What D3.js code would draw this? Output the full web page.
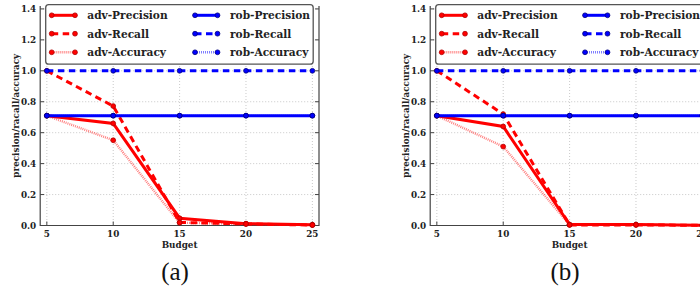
<!DOCTYPE html>
<html>
<head>
<meta charset="utf-8">
<script src="https://cdn.jsdelivr.net/npm/d3@7"></script>
<style>
  body { margin: 0; background: #fff; }
</style>
</head>
<body>
<div id="chart"></div>
<script>
// budgets on the x axis and the two panel captions
const budgets = [5, 10, 15, 20, 25]
const yTicks = [0, 0.2, 0.4, 0.6, 0.8, 1.0, 1.2, 1.4]
const captions = ['(a)', '(b)']

// panel (a) values
const advPrecisionA = [0.71, 0.66, 0.047, 0.012, 0.005]
const advRecallA = [1.0, 0.772, 0.02, 0.01, 0.003]
const advAccuracyA = [0.71, 0.551, 0.018, 0.01, 0.003]
const robPrecisionA = [0.71, 0.71, 0.71, 0.71, 0.71]
const robRecallA = [1.0, 1.0, 1.0, 1.0, 1.0]
const robAccuracyA = [0.71, 0.71, 0.71, 0.71, 0.71]

// panel (b) values
const advPrecisionB = [0.71, 0.64, 0.006, 0.006, 0.002]
const advRecallB = [1.0, 0.72, 0.004, 0.004, 0.001]
const advAccuracyB = [0.71, 0.51, 0.004, 0.004, 0.001]
const robPrecisionB = [0.71, 0.71, 0.71, 0.71, 0.71]
const robRecallB = [1.0, 1.0, 1.0, 1.0, 1.0]
const robAccuracyB = [0.71, 0.71, 0.71, 0.71, 0.71]

const seriesNames = ['adv-Precision', 'adv-Recall', 'adv-Accuracy',
                     'rob-Precision', 'rob-Recall', 'rob-Accuracy']

let width = 700
let height = 291
let serif = '"DejaVu Serif", "Liberation Serif", "Times New Roman", Times, serif'
let times = '"Liberation Serif", "Times New Roman", Times, serif'

// line styles per series (same order as seriesNames)
let styles = [
  { color: '#ff0000', mark: '#b00000', w: 3, dash: null, op: 1 },
  { color: '#ff0000', mark: '#b00000', w: 3, dash: '6.5,4.5', op: 1 },
  { color: '#ff0000', mark: '#b00000', w: 2.4, dash: '1,1', op: 0.5 },
  { color: '#0000ff', mark: '#00007a', w: 3, dash: null, op: 1 },
  { color: '#0000ff', mark: '#00007a', w: 3, dash: '6.5,4.5', op: 1 },
  { color: '#0000ff', mark: '#00007a', w: 2.4, dash: '1,1', op: 0.5 }
]

let svg = d3.select('#chart')
  .append('svg')
  .attr('width', width)
  .attr('height', height)

function drawPanel (offset, data, caption) {
  let g = svg.append('g').attr('transform', 'translate(' + offset + ',0)')

  let left = 40.2
  let right = 319
  let top = 6
  let bottom = 225.5

  let xScale = d3.scaleLinear().domain([4.5, 25.5]).range([left, right])
  let yScale = d3.scaleLinear().domain([0, 1.4]).range([bottom, bottom - 1.4 * 154.7])

  // grid
  g.append('g')
    .selectAll('line')
    .data(budgets)
    .enter()
    .append('line')
    .attr('x1', d => xScale(d))
    .attr('x2', d => xScale(d))
    .attr('y1', top)
    .attr('y2', bottom)
    .attr('stroke', '#bbb')
    .attr('stroke-width', 0.8)
    .attr('stroke-dasharray', '1,2')
  g.append('g')
    .selectAll('line')
    .data(yTicks)
    .enter()
    .append('line')
    .attr('x1', left)
    .attr('x2', right)
    .attr('y1', d => yScale(d))
    .attr('y2', d => yScale(d))
    .attr('stroke', '#bbb')
    .attr('stroke-width', 0.8)
    .attr('stroke-dasharray', '1,2')

  // inward tick marks
  let tk = g.append('g').attr('stroke', '#444').attr('stroke-width', 1)
  yTicks.forEach(d => {
    tk.append('line').attr('x1', left).attr('x2', left + 4)
      .attr('y1', yScale(d)).attr('y2', yScale(d))
    tk.append('line').attr('x1', right).attr('x2', right - 4)
      .attr('y1', yScale(d)).attr('y2', yScale(d))
  })
  budgets.forEach(d => {
    tk.append('line').attr('x1', xScale(d)).attr('x2', xScale(d))
      .attr('y1', bottom).attr('y2', bottom - 4)
  })

  // spines (top is cropped away in the reference)
  g.append('path')
    .attr('d', 'M' + left + ',' + top + 'V' + bottom + 'H' + right + 'V' + top)
    .attr('fill', 'none')
    .attr('stroke', '#444')
    .attr('stroke-width', 1.2)

  // tick labels
  g.append('g')
    .selectAll('text')
    .data(yTicks)
    .enter()
    .append('text')
    .attr('x', left - 4)
    .attr('y', d => yScale(d) + 3)
    .attr('text-anchor', 'end')
    .attr('font-family', serif)
    .attr('font-size', 8.8)
    .attr('font-weight', 'bold')
    .attr('fill', '#222')
    .text(d => d3.format('.1f')(d))
  g.append('g')
    .selectAll('text')
    .data(budgets)
    .enter()
    .append('text')
    .attr('x', d => xScale(d))
    .attr('y', bottom + 11)
    .attr('text-anchor', 'middle')
    .attr('font-family', serif)
    .attr('font-size', 8.8)
    .attr('font-weight', 'bold')
    .attr('fill', '#222')
    .text(d => d)

  // axis titles
  g.append('text')
    .attr('x', (left + right) / 2)
    .attr('y', 248)
    .attr('text-anchor', 'middle')
    .attr('font-family', serif)
    .attr('font-size', 8.8)
    .attr('font-weight', 'bold')
    .attr('fill', '#222')
    .text('Budget')
  g.append('text')
    .attr('transform', 'translate(19,' + (top + bottom) / 2 + ') rotate(-90)')
    .attr('text-anchor', 'middle')
    .attr('font-family', serif)
    .attr('font-size', 8.8)
    .attr('font-weight', 'bold')
    .attr('fill', '#222')
    .text('precision/racall/accuracy')

  // caption
  g.append('text')
    .attr('x', 175)
    .attr('y', 280)
    .attr('text-anchor', 'middle')
    .attr('font-family', times)
    .attr('font-size', 25)
    .attr('fill', '#111')
    .text(caption)

  // series lines + markers
  let line = d3.line()
    .x((d, i) => xScale(budgets[i]))
    .y(d => yScale(d))

  data.forEach((vals, k) => {
    let s = styles[k]
    g.append('path')
      .datum(vals)
      .attr('d', line)
      .attr('fill', 'none')
      .attr('stroke', s.color)
      .attr('stroke-width', s.w)
      .attr('stroke-opacity', s.op)
      .attr('stroke-dasharray', s.dash)
    g.append('g')
      .selectAll('circle')
      .data(vals)
      .enter()
      .append('circle')
      .attr('cx', (d, i) => xScale(budgets[i]))
      .attr('cy', d => yScale(d))
      .attr('r', 2.4)
      .attr('fill', s.color)
      .attr('stroke', s.mark)
      .attr('stroke-width', 0.8)
  })

  // legend
  let lg = g.append('g')
  lg.append('rect')
    .attr('x', 45.7)
    .attr('y', 4.7)
    .attr('width', 267.5)
    .attr('height', 59.5)
    .attr('rx', 3)
    .attr('fill', '#fff')
    .attr('stroke', '#555')
    .attr('stroke-width', 1.3)

  let rowsY = [15.3, 33.7, 52.3]
  let cols = [{ x1: 51.7, x2: 75, tx: 87.3 }, { x1: 195, x2: 217.5, tx: 230 }]
  seriesNames.forEach((name, k) => {
    let c = cols[Math.floor(k / 3)]
    let y = rowsY[k % 3]
    let s = styles[k]
    lg.append('line')
      .attr('x1', c.x1).attr('x2', c.x2)
      .attr('y1', y).attr('y2', y)
      .attr('stroke', s.color)
      .attr('stroke-width', s.w)
      .attr('stroke-opacity', s.op)
      .attr('stroke-dasharray', s.dash)
    ;[c.x1, c.x2].forEach(x => {
      lg.append('circle')
        .attr('cx', x).attr('cy', y).attr('r', 2.4)
        .attr('fill', s.color)
        .attr('stroke', s.mark)
        .attr('stroke-width', 0.8)
    })
    lg.append('text')
      .attr('x', c.tx)
      .attr('y', y + 4)
      .attr('font-family', serif)
      .attr('font-size', 10.6)
      .attr('font-weight', 'bold')
      .attr('fill', '#222')
      .text(name)
  })
}

drawPanel(0, [advPrecisionA, advRecallA, advAccuracyA, robPrecisionA, robRecallA, robAccuracyA], captions[0])
drawPanel(390, [advPrecisionB, advRecallB, advAccuracyB, robPrecisionB, robRecallB, robAccuracyB], captions[1])
</script>
</body>
</html>
